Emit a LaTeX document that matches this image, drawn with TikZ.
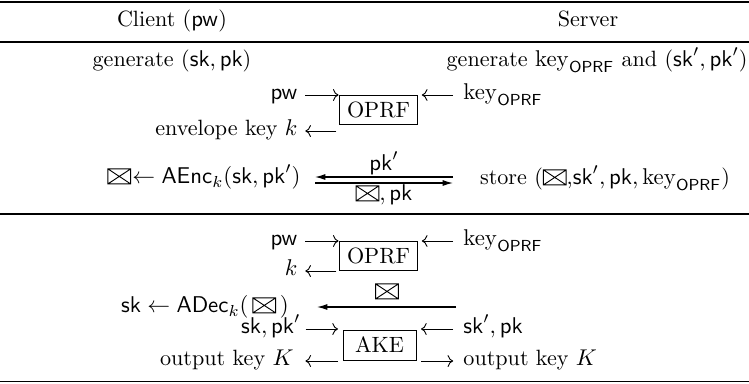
\documentclass[tikz,border=0pt]{standalone}
\usepackage{amsmath}
\usetikzlibrary{arrows.meta}
\newcommand{\envl}{\tikz[baseline=0pt,x=1pt,y=1pt,line width=0.4pt]{\draw (0,0) rectangle (10,6.6) (0,6.6) -- (10,0) (0,0) -- (10,6.6);}}
\newcommand{\keyo}{\mathrm{key}_{\mathsf{OPRF}}}
\begin{document}
\begin{tikzpicture}[x=0.4386pt,y=-0.4386pt,
  every node/.style={font=\fontsize{9.7}{11}\selectfont},
  txt/.style={inner sep=0pt},
  boxn/.style={draw,line width=0.4pt,inner sep=0pt},
  arr/.style={->,line width=0.4pt},
  msg/.style={-{Latex[length=4.5pt,width=2.6pt]},line width=0.5pt},
  rulel/.style={line width=0.6pt}]
\useasboundingbox (0,0) rectangle (749,383);
% rules
\draw[rulel] (0,2) -- (749,2);
\draw[rulel] (0,42) -- (749,42);
\draw[rulel] (0,214) -- (749,214);
\draw[rulel] (0,381.5) -- (749,381.5);
% header
\node[txt,anchor=mid] (client) at (172,22) {Client ($\mathsf{pw}$)};
\node[txt,anchor=mid] (server) at (588,22) {Server};
% registration
\node[txt,anchor=mid] (gen1) at (172,62) {generate ($\mathsf{sk},\mathsf{pk}$)};
\node[txt,anchor=mid east] (gen2) at (748,62) {generate $\keyo$ and ($\mathsf{sk}',\mathsf{pk}'$)};
\node[boxn,minimum width=34.6pt,minimum height=12.7pt] (oprf1) at (378.5,109.5) {OPRF};
\node[txt,anchor=mid east] (pw1) at (298,95) {$\mathsf{pw}$};
\node[txt,anchor=mid east] (k1) at (298,131) {envelope key $k$};
\node[txt,anchor=mid west] (ko1) at (463,95) {$\keyo$};
\draw[arr] ([xshift=3.2pt]pw1.mid east) -- (pw1.mid east -| oprf1.west);
\draw[arr] ([xshift=-1pt]k1.mid east -| oprf1.west) -- ([xshift=3.2pt]k1.mid east);
\draw[arr] ([xshift=-4.3pt]ko1.mid west) -- ([xshift=1.5pt]ko1.mid west -| oprf1.east);
\node[txt,anchor=mid] (aenc) at (204,179) {$\envl\mkern-4mu\leftarrow\mathsf{AEnc}_k(\mathsf{sk},\mathsf{pk}')$};
\node[txt,anchor=mid] (store) at (605,180) {store ($\envl$,$\mathsf{sk}',\mathsf{pk},\keyo$)};
\coordinate (u1) at (315,177);
\coordinate (u2) at (453,177);
\coordinate (d1) at (315,183);
\coordinate (d2) at (453,183);
\draw[msg] (u2) -- (u1);
\draw[msg] (d1) -- (d2);
\node[txt,anchor=mid] (lpk) at (384,166) {$\mathsf{pk}'$};
\node[txt,anchor=mid] (lenv) at (384,196) {$\envl,\mathsf{pk}$};
% login
\node[boxn,minimum width=34.6pt,minimum height=12.7pt] (oprf2) at (378.5,256) {OPRF};
\node[txt,anchor=mid east] (pw2) at (298,241) {$\mathsf{pw}$};
\node[txt,anchor=mid east] (k2) at (298,271) {$k$};
\node[txt,anchor=mid west] (ko2) at (463,241) {$\keyo$};
\draw[arr] ([xshift=3.2pt]pw2.mid east) -- (pw2.mid east -| oprf2.west);
\draw[arr] ([xshift=-1pt]k2.mid east -| oprf2.west) -- ([xshift=3.2pt]k2.mid east);
\draw[arr] ([xshift=-4.3pt]ko2.mid west) -- ([xshift=1.5pt]ko2.mid west -| oprf2.east);
\node[txt,anchor=mid] (adec) at (205,308) {$\mathsf{sk}\leftarrow\mathsf{ADec}_k(\,\envl\,)$};
\coordinate (m1) at (456,307);
\coordinate (m2) at (317,307);
\draw[msg] (m1) -- (m2);
\node[txt,anchor=mid] (lenv2) at (387,294) {$\envl$};
\node[boxn,minimum width=32pt,minimum height=13.2pt] (ake) at (379.5,345) {AKE};
\node[txt,anchor=mid east] (skc) at (301,329) {$\mathsf{sk},\mathsf{pk}'$};
\node[txt,anchor=mid east] (outc) at (294,361) {output key $K$};
\node[txt,anchor=mid west] (sks) at (463,329) {$\mathsf{sk}',\mathsf{pk}$};
\node[txt,anchor=mid west] (outs) at (463,361) {output key $K$};
\draw[arr] ([xshift=2pt]skc.mid east) -- ([xshift=-2pt]skc.mid east -| ake.west);
\draw[arr] ([xshift=-2pt]outc.mid east -| ake.west) -- ([xshift=5pt]outc.mid east);
\draw[arr] ([xshift=-4.3pt]sks.mid west) -- ([xshift=2pt]sks.mid west -| ake.east);
\draw[arr] ([xshift=2pt]outs.mid west -| ake.east) -- ([xshift=-4.3pt]outs.mid west);
\end{tikzpicture}
\end{document}
